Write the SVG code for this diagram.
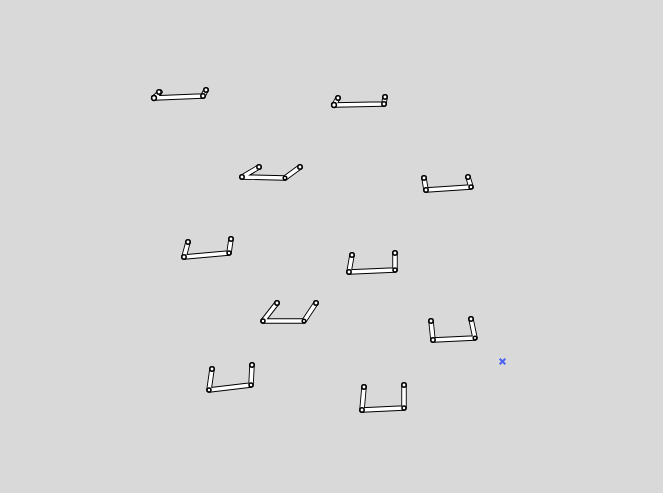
<svg xmlns="http://www.w3.org/2000/svg" width="663" height="493" viewBox="0 0 663 493">
<style>
.o{fill:none;stroke:#000;stroke-width:5.4;stroke-linecap:round;stroke-linejoin:round}
.w{fill:none;stroke:#fff;stroke-width:3.6;stroke-linecap:round;stroke-linejoin:round}
.j{fill:#fff;stroke:#000;stroke-width:1.5}
.x{fill:none;stroke:#4a62f0;stroke-width:2}
</style>
<rect width="663" height="493" fill="#d9d9d9"/>
<g id="frame-1"><path class="o" d="M160 92L154 98L203 96L206 90"/><path class="w" d="M160 92L154 98L203 96L206 90"/><circle class="j" cx="154" cy="98" r="2.4"/><circle class="j" cx="159" cy="92" r="2.2"/><circle class="j" cx="203" cy="96" r="2.2"/><circle class="j" cx="206" cy="90" r="2.2"/></g>
<g id="frame-2"><path class="o" d="M338 98L334 105L384 104L385 97"/><path class="w" d="M338 98L334 105L384 104L385 97"/><circle class="j" cx="334" cy="105" r="2.4"/><circle class="j" cx="338" cy="98" r="2.2"/><circle class="j" cx="384" cy="104" r="2.2"/><circle class="j" cx="385" cy="97" r="2.2"/></g>
<g id="frame-3"><path class="o" d="M259 167L242 177L285 178L300 167"/><path class="w" d="M259 167L242 177L285 178L300 167"/><circle class="j" cx="242" cy="177" r="2.2"/><circle class="j" cx="259" cy="167" r="2.2"/><circle class="j" cx="285" cy="178" r="1.8"/><circle class="j" cx="300" cy="167" r="2.2"/></g>
<g id="frame-4"><path class="o" d="M424 178L426 190L471 187L468 177"/><path class="w" d="M424 178L426 190L471 187L468 177"/><circle class="j" cx="426" cy="190" r="2.2"/><circle class="j" cx="424" cy="178" r="2.2"/><circle class="j" cx="471" cy="187" r="2"/><circle class="j" cx="468" cy="177" r="2.2"/></g>
<g id="frame-5"><path class="o" d="M188 242L184 257L229 253L231 239"/><path class="w" d="M188 242L184 257L229 253L231 239"/><circle class="j" cx="184" cy="257" r="2.2"/><circle class="j" cx="188" cy="242" r="2.2"/><circle class="j" cx="229" cy="253" r="2"/><circle class="j" cx="231" cy="239" r="2.2"/></g>
<g id="frame-6"><path class="o" d="M352 255L349 272L395 270L395 253"/><path class="w" d="M352 255L349 272L395 270L395 253"/><circle class="j" cx="349" cy="272" r="2.2"/><circle class="j" cx="352" cy="255" r="2.2"/><circle class="j" cx="395" cy="270" r="2"/><circle class="j" cx="395" cy="253" r="2.2"/></g>
<g id="frame-7"><path class="o" d="M277 303L263 321L304 321L316 303"/><path class="w" d="M277 303L263 321L304 321L316 303"/><circle class="j" cx="263" cy="321" r="2"/><circle class="j" cx="277" cy="303" r="2.2"/><circle class="j" cx="304" cy="321" r="1.8"/><circle class="j" cx="316" cy="303" r="2.2"/></g>
<g id="frame-8"><path class="o" d="M431 321L433 340L475 338L471 319"/><path class="w" d="M431 321L433 340L475 338L471 319"/><circle class="j" cx="433" cy="340" r="2.2"/><circle class="j" cx="431" cy="321" r="2.2"/><circle class="j" cx="475" cy="338" r="1.8"/><circle class="j" cx="471" cy="319" r="2.2"/></g>
<g id="frame-9"><path class="o" d="M212 369L209 390L251 385L252 365"/><path class="w" d="M212 369L209 390L251 385L252 365"/><circle class="j" cx="209" cy="390" r="2"/><circle class="j" cx="212" cy="369" r="2.2"/><circle class="j" cx="251" cy="385" r="2"/><circle class="j" cx="252" cy="365" r="2.2"/></g>
<g id="frame-10"><path class="o" d="M364 387L362 410L404 408L404 385"/><path class="w" d="M364 387L362 410L404 408L404 385"/><circle class="j" cx="362" cy="410" r="2.2"/><circle class="j" cx="364" cy="387" r="2.2"/><circle class="j" cx="404" cy="408" r="2"/><circle class="j" cx="404" cy="385" r="2.2"/></g>
<g id="marker"><path class="x" d="M499.700 358.700L505.300 364.300M505.300 358.700L499.700 364.300"/></g>
</svg>
